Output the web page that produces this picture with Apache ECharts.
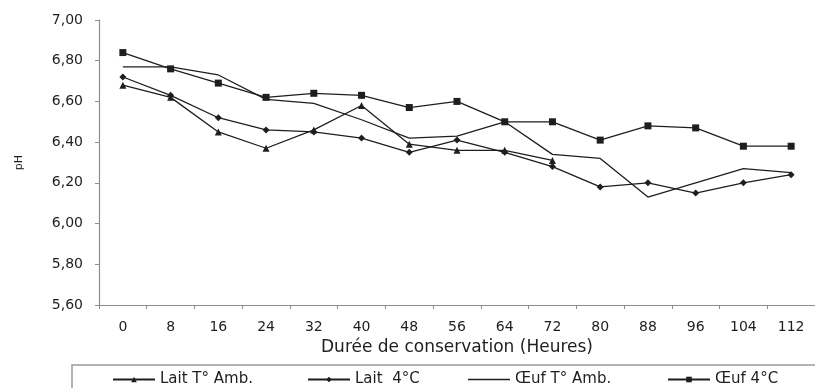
<!DOCTYPE html>
<html>
<head>
<meta charset="utf-8">
<script src="https://cdn.jsdelivr.net/npm/echarts@6/dist/echarts.min.js"></script>
<style>
  html, body { margin: 0; padding: 0; background: #ffffff; }
  #chart { width: 815px; height: 388px; }
</style>
</head>
<body>
<div id="chart"></div>
<script>
// Durée de conservation (heures)
const heures = ['0', '8', '16', '24', '32', '40', '48', '56', '64', '72', '80', '88', '96', '104', '112'];

// pH mesuré pour chaque échantillon
const laitAmb = [6.68, 6.62, 6.45, 6.37, 6.46, 6.58, 6.39, 6.36, 6.36, 6.31];
const lait4 = [6.72, 6.63, 6.52, 6.46, 6.45, 6.42, 6.35, 6.41, 6.35, 6.28, 6.18, 6.20, 6.15, 6.20, 6.24];
const oeufAmb = [6.77, 6.77, 6.73, 6.61, 6.59, 6.51, 6.42, 6.43, 6.50, 6.34, 6.32, 6.13, 6.20, 6.27, 6.25];
const oeuf4 = [6.84, 6.76, 6.69, 6.62, 6.64, 6.63, 6.57, 6.60, 6.50, 6.50, 6.41, 6.48, 6.47, 6.38, 6.38];

const seriesNames = ['Lait T° Amb.', 'Lait  4°C', 'Œuf T° Amb.', 'Œuf 4°C'];

const FONT = 'DejaVu Sans';
const INK = '#1e1e1e';
const AXIS = '#8c8c8c';

function lineSeries(name, data, symbol, size) {
  return {
    name: name,
    type: 'line',
    data: data,
    symbol: symbol,
    symbolSize: size,
    showSymbol: symbol !== 'none',
    lineStyle: { color: INK, width: 1.3 },
    itemStyle: { color: INK },
    emphasis: { disabled: true },
    animation: false
  };
}

// one legend per entry so each sits at its own place in the framed box
function legendAt(name, left, plainLine) {
  const lg = {
    data: [name],
    left: left,
    top: 372,
    padding: 0,
    itemWidth: 42,
    itemHeight: 7,
    itemGap: 0,
    selectedMode: false,
    textStyle: { fontFamily: FONT, fontSize: 15, color: INK }
  };
  if (plainLine) {
    // series drawn without markers: legend key is a bare stroke
    lg.data = [{ name: name, icon: 'rect', itemStyle: { color: INK } }];
    lg.itemHeight = 1.3;
  }
  return lg;
}

const chart = echarts.init(document.getElementById('chart'), null, { renderer: 'canvas' });

chart.setOption({
  backgroundColor: '#ffffff',
  animation: false,
  grid: { left: 99, top: 20, width: 720, height: 285, containLabel: false },
  xAxis: {
    type: 'category',
    data: heures,
    boundaryGap: true,
    name: 'Durée de conservation (Heures)',
    nameLocation: 'middle',
    nameGap: 30,
    nameTextStyle: { fontFamily: FONT, fontSize: 17, color: INK },
    axisLine: { lineStyle: { color: AXIS, width: 1.2 } },
    axisTick: { show: true, length: 4, inside: false, alignWithLabel: false, lineStyle: { color: AXIS } },
    axisLabel: { fontFamily: FONT, fontSize: 14, color: INK, margin: 15, interval: 0 },
    splitLine: { show: false }
  },
  yAxis: {
    type: 'value',
    min: 5.6,
    max: 7.0,
    interval: 0.2,
    name: 'pH',
    nameLocation: 'middle',
    nameGap: 74,
    nameRotate: 90,
    nameTextStyle: { fontFamily: FONT, fontSize: 11, color: INK },
    axisLine: { show: true, lineStyle: { color: AXIS, width: 1.2 } },
    axisTick: { show: true, length: 4, inside: false, lineStyle: { color: AXIS } },
    axisLabel: {
      fontFamily: FONT, fontSize: 14, color: INK, margin: 16,
      formatter: v => v.toFixed(2).replace('.', ',')
    },
    splitLine: { show: false }
  },
  legend: [
    legendAt(seriesNames[0], 112),
    legendAt(seriesNames[1], 307),
    legendAt(seriesNames[2], 468, true),
    legendAt(seriesNames[3], 667)
  ],
  graphic: [{
    type: 'rect',
    silent: true,
    shape: { x: 72, y: 365, width: 760, height: 60 },
    style: { fill: 'none', stroke: '#9a9a9a', lineWidth: 1.5 }
  }],
  series: [
    lineSeries(seriesNames[0], laitAmb, 'triangle', 7),
    lineSeries(seriesNames[1], lait4, 'diamond', 7),
    lineSeries(seriesNames[2], oeufAmb, 'none', 0),
    lineSeries(seriesNames[3], oeuf4, 'rect', 7)
  ]
});
</script>
</body>
</html>
